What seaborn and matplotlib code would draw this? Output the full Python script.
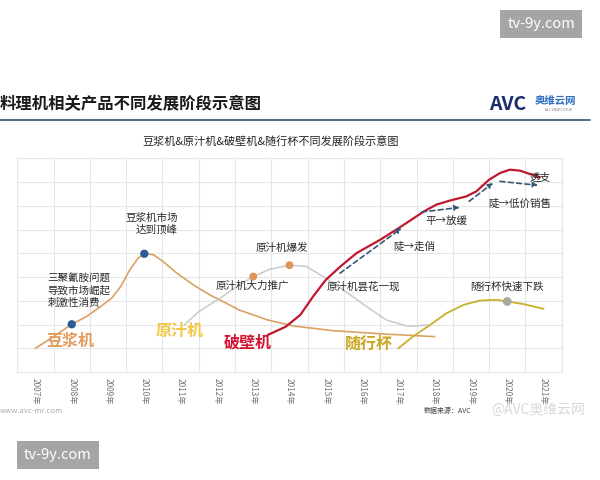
import matplotlib
matplotlib.use('Agg')
import matplotlib.pyplot as plt
from matplotlib.lines import Line2D
import seaborn as sns

# Data (x = year, y = relative stage level)
years = list(range(2007, 2022))
year_labels = [f'{y}年' for y in years]

soy_year = [2007.0, 2007.5, 2008.0, 2008.4, 2008.8, 2009.1, 2009.35, 2009.6, 2009.83, 2010.0,
            2010.25, 2010.52, 2010.9, 2011.35, 2011.8, 2012.1, 2012.6, 2013.4, 2014.1, 2015.2,
            2016.6, 2018.0]
soy_val = [1.00, 1.49, 2.01, 2.33, 2.76, 3.11, 3.60, 4.30, 4.80, 4.98,
           4.94, 4.65, 4.16, 3.67, 3.25, 3.02, 2.62, 2.19, 1.94, 1.74,
           1.60, 1.49]

juicer_year = [2011.1, 2011.5, 2012.1, 2012.5, 2013.0, 2013.46, 2014.0, 2014.47, 2014.93,
               2015.48, 2016.12, 2016.67, 2017.23, 2017.4, 2017.8]
juicer_val = [1.98, 2.54, 3.12, 3.55, 4.02, 4.33, 4.50, 4.44, 4.02,
              3.46, 2.76, 2.19, 1.94, 1.93, 1.98]

blender_year = [2013.4, 2013.9, 2014.3, 2014.65, 2015.0, 2015.4, 2015.85, 2016.5, 2017.05,
                2017.7, 2018.05, 2018.42, 2018.88, 2019.15, 2019.5, 2019.8, 2020.07, 2020.35,
                2020.62, 2020.9]
blender_val = [1.56, 1.91, 2.41, 3.18, 3.88, 4.44, 5.01, 5.57, 6.10,
               6.76, 7.05, 7.22, 7.40, 7.61, 8.10, 8.38, 8.52, 8.48,
               8.34, 8.20]

cup_year = [2017.0, 2017.4, 2017.87, 2018.33, 2018.8, 2019.25, 2019.7, 2020.0, 2020.45, 2021.0]
cup_val = [1.00, 1.49, 1.98, 2.48, 2.83, 3.01, 3.04, 2.97, 2.86, 2.66]

soy_dot_year = [2008.0, 2010.0]
soy_dot_val = [2.01, 4.98]
juicer_dot_year = [2013.0, 2014.0]
juicer_dot_val = [4.02, 4.50]
cup_dot_year = [2020.0]
cup_dot_val = [2.97]

note_texts = ['三聚氰胺问题\n导致市场崛起\n刺激性消费', '豆浆机市场\n达到顶峰', '原汁机大力推广',
              '原汁机爆发', '原汁机昙花一现', '陡→走俏', '平→放缓', '陡→低价销售', '透支',
              '随行杯快速下跌']
note_year = [2007.34, 2010.93, 2012.98, 2013.80, 2016.03, 2017.45, 2018.33, 2020.35, 2020.90, 2019.98]
note_val = [3.42, 6.24, 3.63, 5.23, 3.60, 5.29, 6.31, 7.09, 8.19, 3.60]
note_ha = ['left', 'right', 'center', 'center', 'center', 'center', 'center', 'center', 'center', 'center']

series_names = ['豆浆机', '原汁机', '破壁机', '随行杯']
series_label_year = [2007.95, 2010.98, 2012.84, 2016.19]
series_label_val = [1.32, 1.74, 1.24, 1.18]

arrow_start_year = [2015.39, 2017.64, 2018.95, 2019.80]
arrow_start_val = [4.16, 6.74, 7.19, 8.03]
arrow_end_year = [2017.09, 2018.69, 2019.61, 2020.85]
arrow_end_val = [6.06, 6.93, 7.96, 7.86]

# Style
sns.set_theme(style='whitegrid')
plt.rcParams['font.family'] = ['Noto Sans CJK SC', 'DejaVu Sans']
plt.rcParams['axes.unicode_minus'] = False

c_soy = '#d9a163'
c_juice = '#c9c9c9'
c_blend = '#c0182e'
c_cup = '#c4b22c'
label_colors = ['#e39a5b', '#f2c744', '#d41432', '#c9a623']

fig = plt.figure(figsize=(6, 4.8), dpi=100)
fig.patch.set_facecolor('white')
ax = fig.add_axes([17.3 / 600, 1 - 372 / 480, (561.7 - 17.3) / 600, (372 - 158.3) / 480])
ax.set_facecolor('white')

sns.lineplot(x=soy_year, y=soy_val, ax=ax, color=c_soy, linewidth=1.2, sort=False, estimator=None)
sns.lineplot(x=juicer_year, y=juicer_val, ax=ax, color=c_juice, linewidth=1.1, sort=False, estimator=None)
sns.lineplot(x=blender_year, y=blender_val, ax=ax, color=c_blend, linewidth=1.6, sort=False, estimator=None)
sns.lineplot(x=cup_year, y=cup_val, ax=ax, color=c_cup, linewidth=1.3, sort=False, estimator=None)

sns.scatterplot(x=soy_dot_year, y=soy_dot_val, ax=ax, color='#2b5c98', s=36, edgecolor='none', zorder=5)
sns.scatterplot(x=juicer_dot_year, y=juicer_dot_val, ax=ax, color='#dc9458', s=32, edgecolor='none', zorder=5)
sns.scatterplot(x=cup_dot_year, y=cup_dot_val, ax=ax, color='#a8a8a0', s=40, edgecolor='none', zorder=5)

for xs, ys, xe, ye in zip(arrow_start_year, arrow_start_val, arrow_end_year, arrow_end_val):
    ax.annotate('', xy=(xe, ye), xytext=(xs, ys),
                arrowprops=dict(arrowstyle='-|>', linestyle=(0, (3, 2)), color='#355878',
                                lw=1.2, mutation_scale=7, shrinkA=0, shrinkB=0), zorder=6)

for txt, x, y, ha in zip(note_texts, note_year, note_val, note_ha):
    ax.text(x, y, txt, ha=ha, va='center', fontsize=7.6, color='#2a2a2a',
            linespacing=1.25, multialignment=ha, zorder=7)

for name, x, y, col in zip(series_names, series_label_year, series_label_val, label_colors):
    ax.text(x, y, name, ha='center', va='center', fontsize=11.5, color=col,
            fontweight='bold', zorder=7)

# axes, grid and ticks
ax.set_xlim(2006.5, 2021.5)
ax.set_ylim(0, 9)
ax.set_xticks([y - 0.5 for y in years] + [2021.5])
ax.set_yticks(range(10))
ax.set_xticks(years, minor=True)
ax.set_xticklabels(year_labels, minor=True)
ax.tick_params(axis='x', which='major', length=0, labelbottom=False)
ax.tick_params(axis='x', which='minor', length=0, labelsize=6, labelcolor='#777777',
               labelrotation=-90, pad=4)
ax.tick_params(axis='y', length=0, labelleft=False)
ax.grid(True, which='major', color='#e6e6e6', linewidth=0.8)
ax.grid(False, which='minor')
for sp in ax.spines.values():
    sp.set_color('#e6e6e6')
    sp.set_linewidth(0.8)
ax.set_xlabel('')
ax.set_ylabel('')

# header
fig.text(0.0, 1 - 104 / 480, '料理机相关产品不同发展阶段示意图', ha='left', va='center',
         fontsize=11.8, fontweight='bold', color='#1a1a1a')
fig.add_artist(Line2D([0, 590 / 600], [1 - 120 / 480, 1 - 120 / 480], color='#3d6080', lw=1.3))
fig.text(271 / 600, 1 - 141 / 480, '豆浆机&原汁机&破壁机&随行杯不同发展阶段示意图', ha='center',
         va='center', fontsize=8, color='#222222')
fig.text(489 / 600, 1 - 104 / 480, 'AVC', ha='left', va='center', fontsize=14,
         fontweight='bold', style='italic', color='#1b2d6b')
fig.text(535 / 600, 1 - 101 / 480, '奥维云网', ha='left', va='center', fontsize=7.5,
         fontweight='bold', color='#2f6fc0')
fig.text(545 / 600, 1 - 110 / 480, 'ALL VIEW CLOUD', ha='left', va='center', fontsize=2.5,
         color='#777777')

# footer and watermarks
fig.text(0.0, 1 - 411 / 480, 'www.avc-mr.com', ha='left', va='center', fontsize=5.5, color='#aaaaaa')
fig.text(448 / 600, 1 - 411 / 480, '数据来源：AVC', ha='center', va='center', fontsize=5, color='#444444')
fig.text(538 / 600, 1 - 410 / 480, '@AVC奥维云网', ha='center', va='center', fontsize=10,
         color='#d8d8d8')
for cx, cy in [(541, 24), (58, 455)]:
    fig.text(cx / 600, 1 - cy / 480, 'tv-9y.com', ha='center', va='center', fontsize=10.5,
             color='white', bbox=dict(boxstyle='square,pad=0.5', fc='#a5a5a5', ec='none'))

fig.savefig('out.png', dpi=100)
